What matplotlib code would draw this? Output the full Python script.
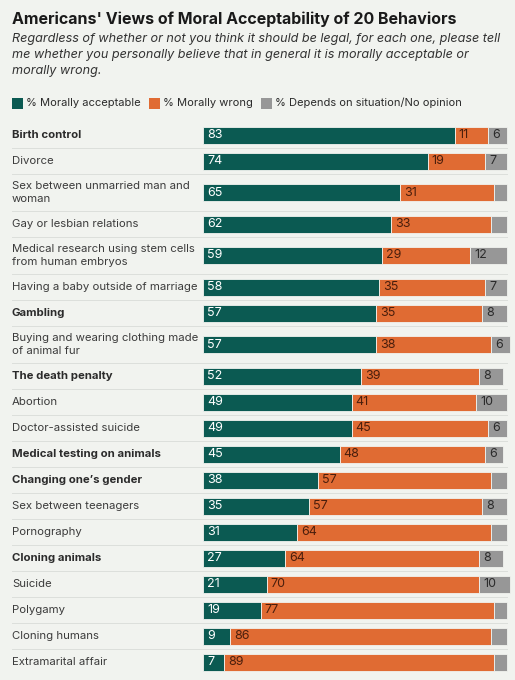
import matplotlib.pyplot as plt
import numpy as np

# chart data
behaviors = [
    "Birth control", "Divorce", "Sex between unmarried man and\nwoman",
    "Gay or lesbian relations", "Medical research using stem cells\nfrom human embryos",
    "Having a baby outside of marriage", "Gambling",
    "Buying and wearing clothing made\nof animal fur", "The death penalty", "Abortion",
    "Doctor-assisted suicide", "Medical testing on animals", "Changing one\u2019s gender",
    "Sex between teenagers", "Pornography", "Cloning animals", "Suicide", "Polygamy",
    "Cloning humans", "Extramarital affair",
]
bold_rows = ["Birth control", "Gambling", "The death penalty", "Medical testing on animals",
             "Changing one\u2019s gender", "Cloning animals"]
acceptable = [83, 74, 65, 62, 59, 58, 57, 57, 52, 49, 49, 45, 38, 35, 31, 27, 21, 19, 9, 7]
wrong = [11, 19, 31, 33, 29, 35, 35, 38, 39, 41, 45, 48, 57, 57, 64, 64, 70, 77, 86, 89]
depends = [6, 7, 4, 5, 12, 7, 8, 6, 8, 10, 6, 6, 5, 8, 5, 8, 10, 4, 5, 4]
series_names = ["% Morally acceptable", "% Morally wrong", "% Depends on situation/No opinion"]

BG = "#f1f3ef"
GREEN = "#0b5a52"
ORANGE = "#e06b33"
GRAY = "#979797"
FONT = "Inter"

W, H = 515, 680
fig = plt.figure(figsize=(W / 100, H / 100), dpi=100, facecolor=BG)
ax = fig.add_axes([0, 0, 1, 1])
ax.set_facecolor(BG)

# x in percent: 0 at pixel 203, 100 at pixel ~506
px_per_pct = 3.035
x0 = 203
ax.set_xlim(-x0 / px_per_pct, (W - x0) / px_per_pct)
ax.set_ylim(H, 0)
ax.axis("off")

def px(x):
    return (x - x0) / px_per_pct

# row layout (pixels)
top = 122
heights = [37 if "\n" in b else 26 for b in behaviors]
edges = top + np.concatenate([[0], np.cumsum(heights)])
centers = (edges[:-1] + edges[1:]) / 2

acc = np.array(acceptable)
wr = np.array(wrong)
dep = np.array(depends)
bh = 17
ax.barh(centers, acc, height=bh, color=GREEN, edgecolor=BG, linewidth=0.6)
ax.barh(centers, wr, left=acc, height=bh, color=ORANGE, edgecolor=BG, linewidth=0.6)
ax.barh(centers, dep, left=acc + wr, height=bh, color=GRAY, edgecolor=BG, linewidth=0.6)

fs = 8.2
vfs = 9.0
for i, name in enumerate(behaviors):
    y = centers[i]
    ax.text(px(12), y, name, ha="left", va="center", fontsize=fs, family=FONT,
            fontweight="bold" if name in bold_rows else "normal",
            color="#2b2b2b" if name in bold_rows else "#3c3c3c", linespacing=1.4)
    ax.text(1.3, y, str(acc[i]), ha="left", va="center", fontsize=vfs, family=FONT,
            color="white")
    ax.text(acc[i] + 1.3, y, str(wr[i]), ha="left", va="center", fontsize=vfs, family=FONT,
            color="#4a1e0c")
    if dep[i] >= 6:
        ax.text(acc[i] + wr[i] + 1.3, y, str(dep[i]), ha="left", va="center", fontsize=vfs,
                family=FONT, color="#2b2b2b")

# row separators
for e in edges[1:-1]:
    ax.plot([px(12), px(507)], [e, e], color="#dcdfdb", lw=0.7, zorder=0)

# title and subtitle
ax.text(px(12), 19, "Americans' Views of Moral Acceptability of 20 Behaviors", ha="left",
        va="center", fontsize=11.5, fontweight="bold", family=FONT, color="#1a1a1a")
subtitle = ("Regardless of whether or not you think it should be legal, for each one, please tell\n"
            "me whether you personally believe that in general it is morally acceptable or\n"
            "morally wrong.")
ax.text(px(12), 33, subtitle, ha="left", va="top", fontsize=9.1, fontstyle="italic",
        family=FONT, color="#333333", linespacing=1.42)

# legend
legend_x = [12, 149, 261]
for lx, name, c in zip(legend_x, series_names, [GREEN, ORANGE, GRAY]):
    ax.barh(103, 11 / px_per_pct, left=px(lx), height=11, color=c)
    ax.text(px(lx + 14), 103, name, ha="left", va="center", fontsize=8.0, family=FONT,
            color="#2b2b2b")

fig.savefig("out.png", dpi=100, facecolor=BG)
